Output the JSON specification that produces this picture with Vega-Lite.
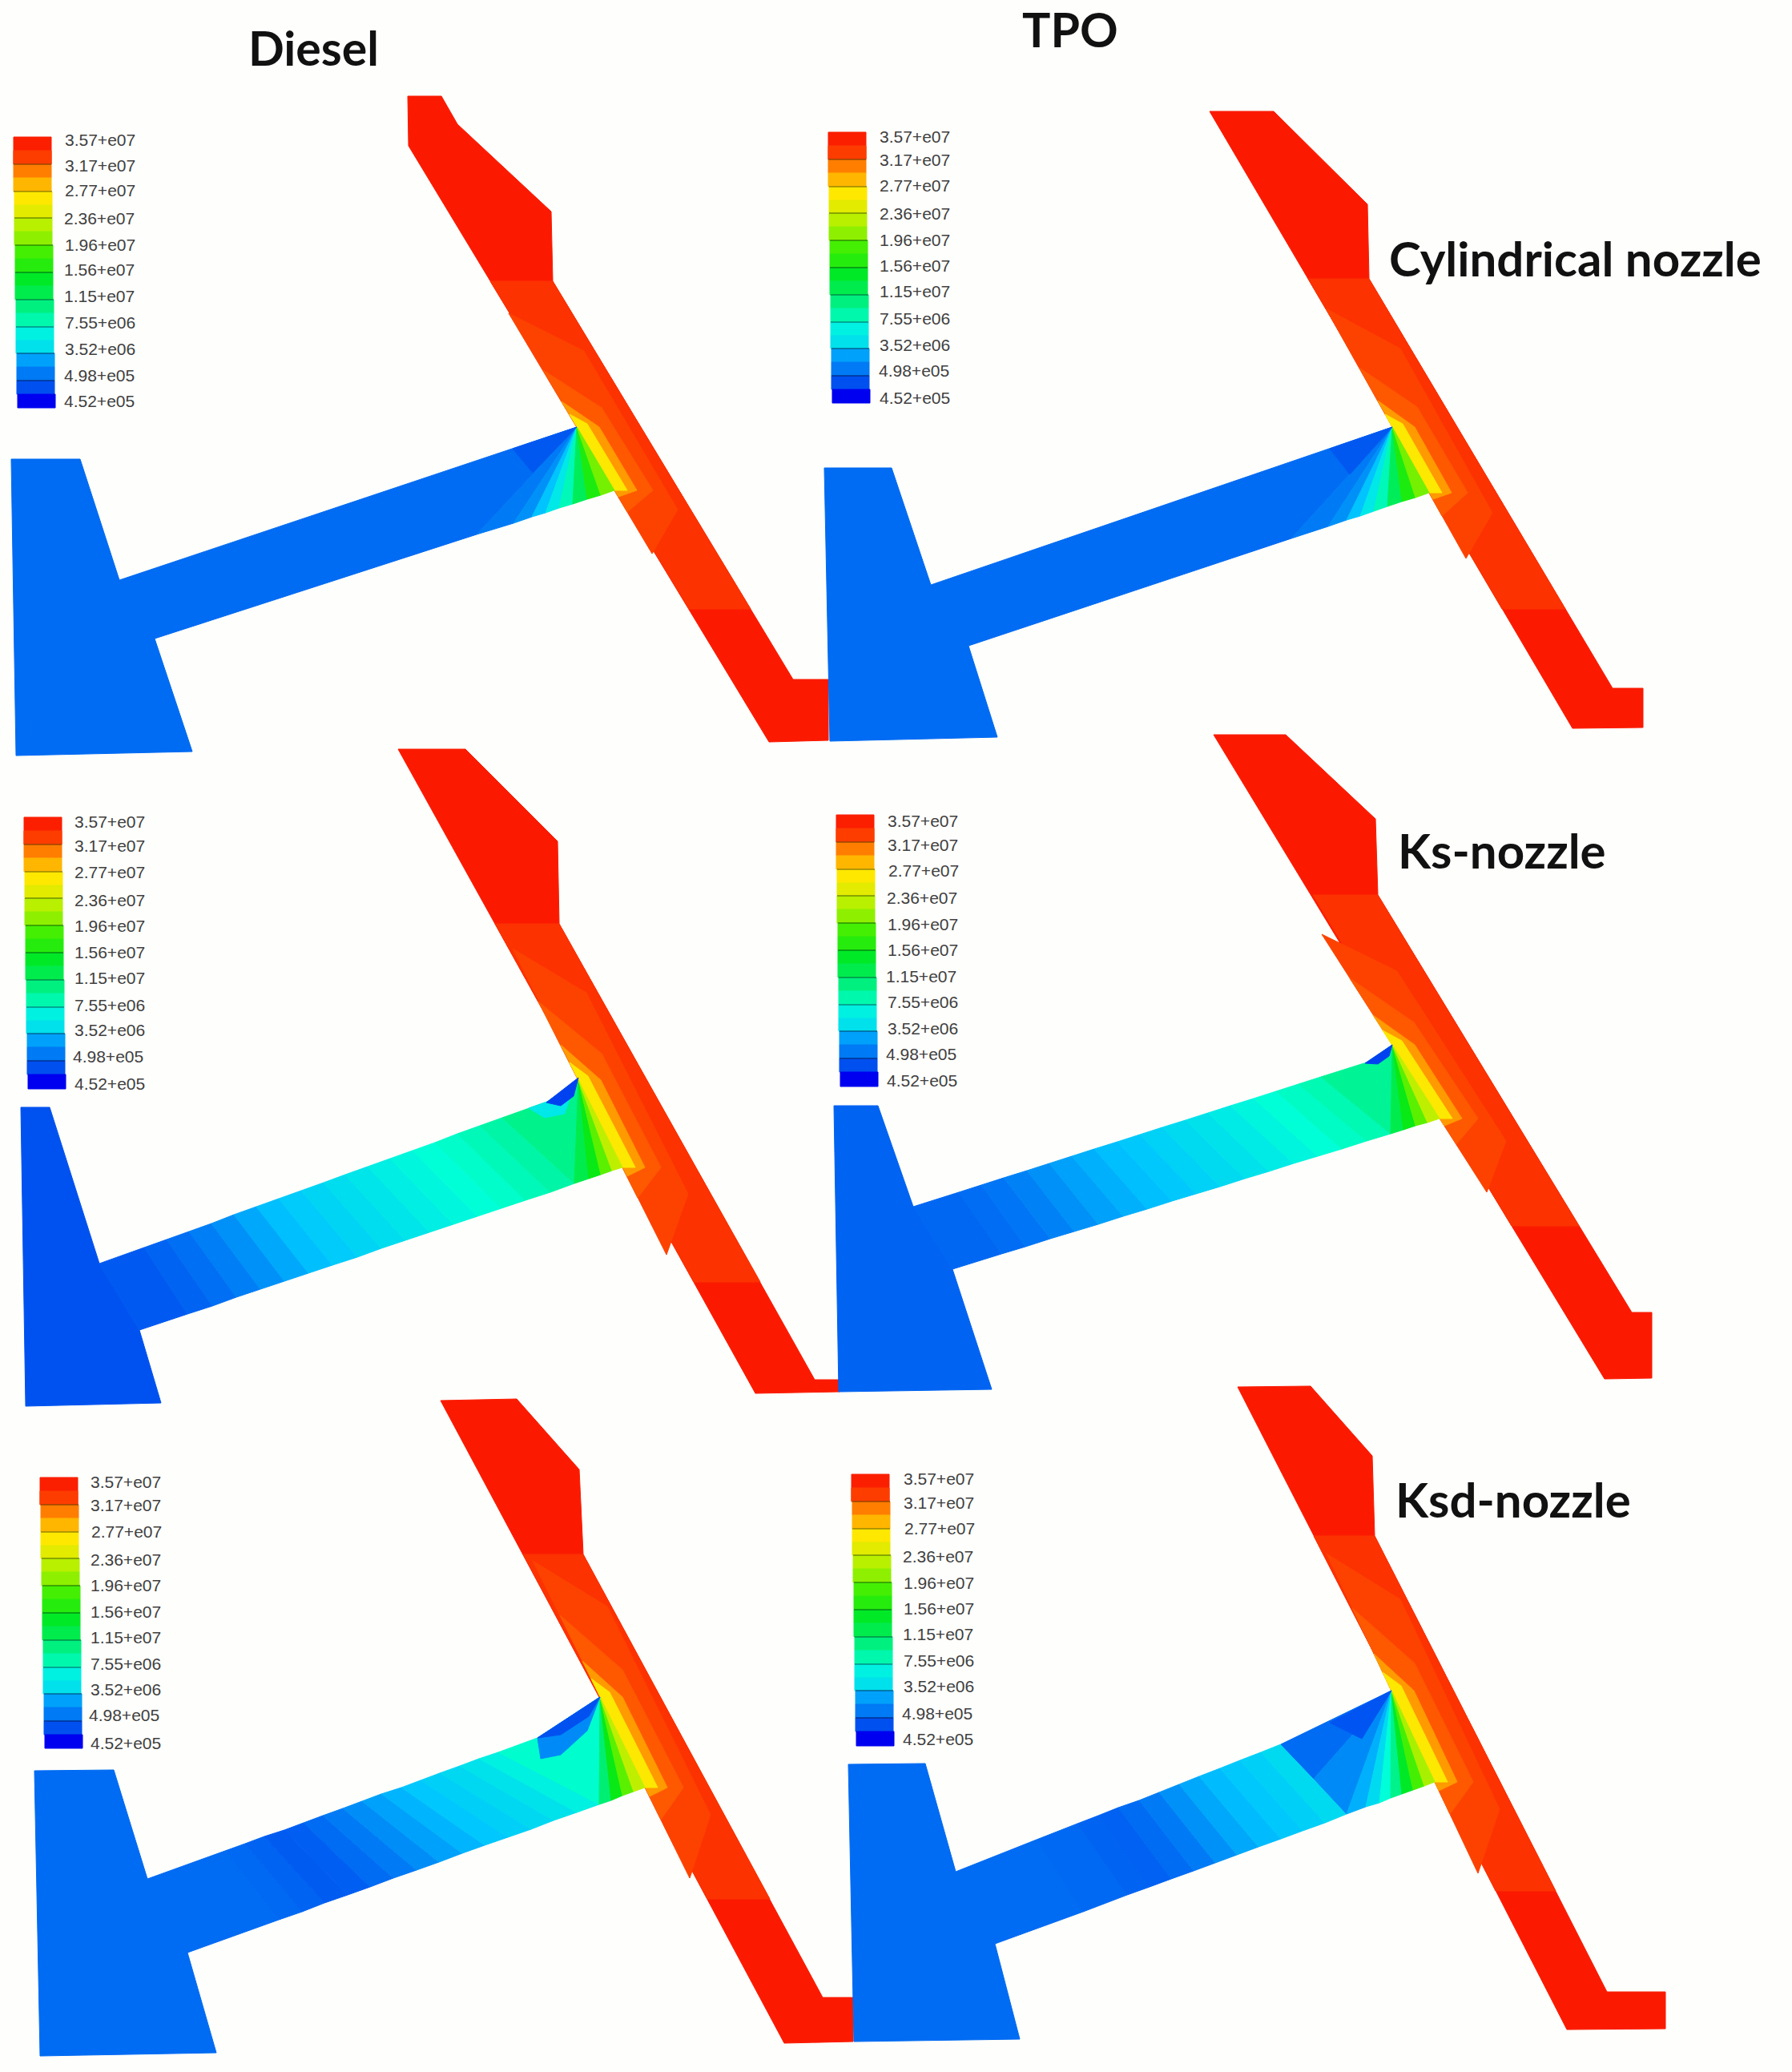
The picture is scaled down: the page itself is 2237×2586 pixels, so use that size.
{"$schema":"https://vega.github.io/schema/vega-lite/v6.json","width":2237,"height":2586,"padding":0,"autosize":"none","background":"#fefefc","config":{"view":{"stroke":null}},"projection":{"type":"identity","scale":1,"translate":[0,0]},
"layer":[
{"data":{"values":[
{"type":"Feature","p":35700000,"geometry":{"type":"Polygon","coordinates":[[[509,120],[551,120],[571,155],[688,264],[690,351],[990,848],[1034,848],[1034,924],[960,926],[510,182],[509,120]]]}},
{"type":"Feature","p":34700000,"geometry":{"type":"Polygon","coordinates":[[[612,351],[690,351],[937,760],[860,760],[612,351]]]}},
{"type":"Feature","p":34000000,"geometry":{"type":"Polygon","coordinates":[[[635,391],[729,438],[846,636],[814,691],[635,391]]]}},
{"type":"Feature","p":33000000,"geometry":{"type":"Polygon","coordinates":[[[678,462],[751,509],[815,612],[783,639],[678,462]]]}},
{"type":"Feature","p":30500000,"geometry":{"type":"Polygon","coordinates":[[[701,501],[748,533],[795,612],[772,620],[701,501]]]}},
{"type":"Feature","p":27500000,"geometry":{"type":"Polygon","coordinates":[[[711,517],[733,529],[783,612],[767,612],[711,517]]]}},
{"type":"Feature","p":1200000,"geometry":{"type":"Polygon","coordinates":[[[14,573],[100,573],[149,724],[193,797],[240,938],[20,943],[14,573]]]}},
{"type":"Feature","p":1200000,"geometry":{"type":"Polygon","coordinates":[[[149,724],[720,533],[595,667],[193,797],[149,724]]]}},
{"type":"Feature","p":1600000,"geometry":{"type":"Polygon","coordinates":[[[720,533],[595,667],[641,653],[720,533]]]}},
{"type":"Feature","p":2200000,"geometry":{"type":"Polygon","coordinates":[[[720,533],[641,653],[664,645],[720,533]]]}},
{"type":"Feature","p":3500000,"geometry":{"type":"Polygon","coordinates":[[[720,533],[664,645],[681,640],[720,533]]]}},
{"type":"Feature","p":6000000,"geometry":{"type":"Polygon","coordinates":[[[720,533],[681,640],[698,634],[720,533]]]}},
{"type":"Feature","p":9000000,"geometry":{"type":"Polygon","coordinates":[[[720,533],[698,634],[715,629],[720,533]]]}},
{"type":"Feature","p":13000000,"geometry":{"type":"Polygon","coordinates":[[[720,533],[715,629],[733,623],[720,533]]]}},
{"type":"Feature","p":17000000,"geometry":{"type":"Polygon","coordinates":[[[720,533],[733,623],[750,618],[720,533]]]}},
{"type":"Feature","p":21000000,"geometry":{"type":"Polygon","coordinates":[[[720,533],[750,618],[767,612],[720,533]]]}},
{"type":"Feature","p":700000,"geometry":{"type":"Polygon","coordinates":[[[720,533],[640,560],[665,590],[720,533]]]}},

{"type":"Feature","p":35700000,"geometry":{"type":"Polygon","coordinates":[[[1510,139],[1590,139],[1707,255],[1709,348],[2013,859],[2051,859],[2051,908],[1963,909],[1510,139]]]}},
{"type":"Feature","p":34700000,"geometry":{"type":"Polygon","coordinates":[[[1633,348],[1709,348],[1954,760],[1875,760],[1633,348]]]}},
{"type":"Feature","p":34000000,"geometry":{"type":"Polygon","coordinates":[[[1655,385],[1748,435],[1863,640],[1830,697],[1655,385]]]}},
{"type":"Feature","p":33000000,"geometry":{"type":"Polygon","coordinates":[[[1697,459],[1769,508],[1832,615],[1800,644],[1697,459]]]}},
{"type":"Feature","p":30500000,"geometry":{"type":"Polygon","coordinates":[[[1720,500],[1766,533],[1812,615],[1789,623],[1720,500]]]}},
{"type":"Feature","p":27500000,"geometry":{"type":"Polygon","coordinates":[[[1729,517],[1751,529],[1800,615],[1784,615],[1729,517]]]}},
{"type":"Feature","p":1200000,"geometry":{"type":"Polygon","coordinates":[[[1029,584],[1113,584],[1162,730],[1209,806],[1245,920],[1036,925],[1029,584]]]}},
{"type":"Feature","p":1200000,"geometry":{"type":"Polygon","coordinates":[[[1162,730],[1738,533],[1612,672],[1209,806],[1162,730]]]}},
{"type":"Feature","p":1600000,"geometry":{"type":"Polygon","coordinates":[[[1738,533],[1612,672],[1658,657],[1738,533]]]}},
{"type":"Feature","p":2200000,"geometry":{"type":"Polygon","coordinates":[[[1738,533],[1658,657],[1681,649],[1738,533]]]}},
{"type":"Feature","p":3500000,"geometry":{"type":"Polygon","coordinates":[[[1738,533],[1681,649],[1698,644],[1738,533]]]}},
{"type":"Feature","p":6000000,"geometry":{"type":"Polygon","coordinates":[[[1738,533],[1698,644],[1715,638],[1738,533]]]}},
{"type":"Feature","p":9000000,"geometry":{"type":"Polygon","coordinates":[[[1738,533],[1715,638],[1732,632],[1738,533]]]}},
{"type":"Feature","p":13000000,"geometry":{"type":"Polygon","coordinates":[[[1738,533],[1732,632],[1750,626],[1738,533]]]}},
{"type":"Feature","p":17000000,"geometry":{"type":"Polygon","coordinates":[[[1738,533],[1750,626],[1767,621],[1738,533]]]}},
{"type":"Feature","p":21000000,"geometry":{"type":"Polygon","coordinates":[[[1738,533],[1767,621],[1784,615],[1738,533]]]}},
{"type":"Feature","p":700000,"geometry":{"type":"Polygon","coordinates":[[[1738,533],[1660,560],[1685,592],[1738,533]]]}},

{"type":"Feature","p":35700000,"geometry":{"type":"Polygon","coordinates":[[[497,935],[581,935],[696,1050],[698,1153],[1017,1722],[1048,1722],[1048,1737],[943,1739],[497,935]]]}},
{"type":"Feature","p":34700000,"geometry":{"type":"Polygon","coordinates":[[[618,1153],[698,1153],[949,1600],[866,1600],[618,1153]]]}},
{"type":"Feature","p":34000000,"geometry":{"type":"Polygon","coordinates":[[[640,1184],[732,1239],[859,1490],[832,1566],[640,1184]]]}},
{"type":"Feature","p":33000000,"geometry":{"type":"Polygon","coordinates":[[[672,1250],[751,1315],[825,1457],[796,1495],[672,1250]]]}},
{"type":"Feature","p":30500000,"geometry":{"type":"Polygon","coordinates":[[[700,1304],[750,1348],[805,1457],[783,1468],[700,1304]]]}},
{"type":"Feature","p":27500000,"geometry":{"type":"Polygon","coordinates":[[[711,1326],[734,1343],[793,1457],[777,1457],[711,1326]]]}},
{"type":"Feature","p":550000,"geometry":{"type":"Polygon","coordinates":[[[26,1382],[62,1382],[124,1577],[174,1660],[201,1751],[32,1755],[26,1382]]]}},
{"type":"Feature","p":750000,"geometry":{"type":"Polygon","coordinates":[[[124,1577],[180,1557],[234,1640],[174,1660],[124,1577]]]}},
{"type":"Feature","p":1000000,"geometry":{"type":"Polygon","coordinates":[[[180,1557],[208,1547],[265,1630],[234,1640],[180,1557]]]}},
{"type":"Feature","p":1300000,"geometry":{"type":"Polygon","coordinates":[[[208,1547],[236,1537],[295,1619],[265,1630],[208,1547]]]}},
{"type":"Feature","p":1700000,"geometry":{"type":"Polygon","coordinates":[[[236,1537],[264,1527],[325,1609],[295,1619],[236,1537]]]}},
{"type":"Feature","p":2200000,"geometry":{"type":"Polygon","coordinates":[[[264,1527],[292,1516],[355,1599],[325,1609],[264,1527]]]}},
{"type":"Feature","p":2800000,"geometry":{"type":"Polygon","coordinates":[[[292,1516],[320,1506],[385,1589],[355,1599],[292,1516]]]}},
{"type":"Feature","p":3400000,"geometry":{"type":"Polygon","coordinates":[[[320,1506],[348,1496],[415,1579],[385,1589],[320,1506]]]}},
{"type":"Feature","p":4000000,"geometry":{"type":"Polygon","coordinates":[[[348,1496],[376,1486],[446,1569],[415,1579],[348,1496]]]}},
{"type":"Feature","p":4600000,"geometry":{"type":"Polygon","coordinates":[[[376,1486],[404,1476],[476,1558],[446,1569],[376,1486]]]}},
{"type":"Feature","p":5200000,"geometry":{"type":"Polygon","coordinates":[[[404,1476],[431,1466],[506,1548],[476,1558],[404,1476]]]}},
{"type":"Feature","p":5800000,"geometry":{"type":"Polygon","coordinates":[[[431,1466],[459,1456],[536,1538],[506,1548],[431,1466]]]}},
{"type":"Feature","p":6400000,"geometry":{"type":"Polygon","coordinates":[[[459,1456],[487,1446],[566,1528],[536,1538],[459,1456]]]}},
{"type":"Feature","p":7000000,"geometry":{"type":"Polygon","coordinates":[[[487,1446],[515,1436],[596,1518],[566,1528],[487,1446]]]}},
{"type":"Feature","p":7600000,"geometry":{"type":"Polygon","coordinates":[[[515,1436],[543,1426],[626,1508],[596,1518],[515,1436]]]}},
{"type":"Feature","p":8200000,"geometry":{"type":"Polygon","coordinates":[[[543,1426],[571,1415],[656,1498],[626,1508],[543,1426]]]}},
{"type":"Feature","p":9000000,"geometry":{"type":"Polygon","coordinates":[[[571,1415],[599,1405],[687,1488],[656,1498],[571,1415]]]}},
{"type":"Feature","p":9800000,"geometry":{"type":"Polygon","coordinates":[[[599,1405],[627,1395],[717,1477],[687,1488],[599,1405]]]}},
{"type":"Feature","p":11000000,"geometry":{"type":"Polygon","coordinates":[[[627,1395],[683,1375],[722,1348],[717,1477],[627,1395]]]}},
{"type":"Feature","p":13500000,"geometry":{"type":"Polygon","coordinates":[[[722,1348],[717,1477],[735,1471],[722,1348]]]}},
{"type":"Feature","p":16000000,"geometry":{"type":"Polygon","coordinates":[[[722,1348],[735,1471],[750,1466],[722,1348]]]}},
{"type":"Feature","p":20000000,"geometry":{"type":"Polygon","coordinates":[[[722,1348],[750,1466],[764,1461],[722,1348]]]}},
{"type":"Feature","p":24000000,"geometry":{"type":"Polygon","coordinates":[[[722,1348],[764,1461],[777,1457],[722,1348]]]}},
{"type":"Feature","p":6000000,"geometry":{"type":"Polygon","coordinates":[[[660,1383],[683,1375],[712,1368],[705,1390],[680,1395],[660,1383]]]}},
{"type":"Feature","p":490000,"geometry":{"type":"Polygon","coordinates":[[[722,1345],[682,1376],[700,1380],[716,1368],[722,1345]]]}},

{"type":"Feature","p":35700000,"geometry":{"type":"Polygon","coordinates":[[[1515,917],[1605,917],[1717,1022],[1720,1117],[2037,1638],[2062,1638],[2062,1720],[2003,1721],[1515,917]]]}},
{"type":"Feature","p":34700000,"geometry":{"type":"Polygon","coordinates":[[[1639,1117],[1720,1117],[1971,1530],[1887,1530],[1639,1117]]]}},
{"type":"Feature","p":34000000,"geometry":{"type":"Polygon","coordinates":[[[1650,1166],[1744,1212],[1880,1424],[1856,1488],[1650,1166]]]}},
{"type":"Feature","p":33000000,"geometry":{"type":"Polygon","coordinates":[[[1685,1221],[1765,1276],[1845,1396],[1818,1428],[1685,1221]]]}},
{"type":"Feature","p":30500000,"geometry":{"type":"Polygon","coordinates":[[[1714,1267],[1766,1304],[1825,1396],[1803,1405],[1714,1267]]]}},
{"type":"Feature","p":27500000,"geometry":{"type":"Polygon","coordinates":[[[1726,1286],[1750,1299],[1813,1396],[1797,1396],[1726,1286]]]}},
{"type":"Feature","p":1000000,"geometry":{"type":"Polygon","coordinates":[[[1041,1380],[1096,1380],[1140,1506],[1189,1584],[1238,1734],[1047,1737],[1041,1380]]]}},
{"type":"Feature","p":1100000,"geometry":{"type":"Polygon","coordinates":[[[1140,1506],[1197,1488],[1250,1565],[1189,1584],[1140,1506]]]}},
{"type":"Feature","p":1250000,"geometry":{"type":"Polygon","coordinates":[[[1197,1488],[1225,1479],[1280,1556],[1250,1565],[1197,1488]]]}},
{"type":"Feature","p":1450000,"geometry":{"type":"Polygon","coordinates":[[[1225,1479],[1253,1470],[1311,1546],[1280,1556],[1225,1479]]]}},
{"type":"Feature","p":1800000,"geometry":{"type":"Polygon","coordinates":[[[1253,1470],[1282,1461],[1341,1537],[1311,1546],[1253,1470]]]}},
{"type":"Feature","p":2200000,"geometry":{"type":"Polygon","coordinates":[[[1282,1461],[1310,1452],[1371,1528],[1341,1537],[1282,1461]]]}},
{"type":"Feature","p":2600000,"geometry":{"type":"Polygon","coordinates":[[[1310,1452],[1338,1443],[1402,1518],[1371,1528],[1310,1452]]]}},
{"type":"Feature","p":3000000,"geometry":{"type":"Polygon","coordinates":[[[1338,1443],[1366,1434],[1432,1509],[1402,1518],[1338,1443]]]}},
{"type":"Feature","p":3400000,"geometry":{"type":"Polygon","coordinates":[[[1366,1434],[1395,1425],[1463,1499],[1432,1509],[1366,1434]]]}},
{"type":"Feature","p":3800000,"geometry":{"type":"Polygon","coordinates":[[[1395,1425],[1423,1416],[1493,1490],[1463,1499],[1395,1425]]]}},
{"type":"Feature","p":4400000,"geometry":{"type":"Polygon","coordinates":[[[1423,1416],[1451,1407],[1523,1481],[1493,1490],[1423,1416]]]}},
{"type":"Feature","p":5000000,"geometry":{"type":"Polygon","coordinates":[[[1451,1407],[1480,1398],[1554,1471],[1523,1481],[1451,1407]]]}},
{"type":"Feature","p":5600000,"geometry":{"type":"Polygon","coordinates":[[[1480,1398],[1508,1389],[1584,1462],[1554,1471],[1480,1398]]]}},
{"type":"Feature","p":6200000,"geometry":{"type":"Polygon","coordinates":[[[1508,1389],[1536,1380],[1615,1452],[1584,1462],[1508,1389]]]}},
{"type":"Feature","p":6900000,"geometry":{"type":"Polygon","coordinates":[[[1536,1380],[1565,1371],[1645,1443],[1615,1452],[1536,1380]]]}},
{"type":"Feature","p":7600000,"geometry":{"type":"Polygon","coordinates":[[[1565,1371],[1593,1362],[1675,1434],[1645,1443],[1565,1371]]]}},
{"type":"Feature","p":8400000,"geometry":{"type":"Polygon","coordinates":[[[1593,1362],[1621,1353],[1706,1424],[1675,1434],[1593,1362]]]}},
{"type":"Feature","p":9200000,"geometry":{"type":"Polygon","coordinates":[[[1621,1353],[1649,1344],[1736,1415],[1706,1424],[1621,1353]]]}},
{"type":"Feature","p":10500000,"geometry":{"type":"Polygon","coordinates":[[[1649,1344],[1706,1326],[1738,1304],[1736,1415],[1649,1344]]]}},
{"type":"Feature","p":13500000,"geometry":{"type":"Polygon","coordinates":[[[1738,1304],[1736,1415],[1752,1410],[1738,1304]]]}},
{"type":"Feature","p":16000000,"geometry":{"type":"Polygon","coordinates":[[[1738,1304],[1752,1410],[1767,1405],[1738,1304]]]}},
{"type":"Feature","p":20000000,"geometry":{"type":"Polygon","coordinates":[[[1738,1304],[1767,1405],[1782,1401],[1738,1304]]]}},
{"type":"Feature","p":24000000,"geometry":{"type":"Polygon","coordinates":[[[1738,1304],[1782,1401],[1797,1396],[1738,1304]]]}},
{"type":"Feature","p":490000,"geometry":{"type":"Polygon","coordinates":[[[1738,1304],[1704,1327],[1720,1328],[1734,1318],[1738,1304]]]}},

{"type":"Feature","p":35700000,"geometry":{"type":"Polygon","coordinates":[[[550,1748],[645,1746],[723,1834],[728,1940],[1027,2493],[1065,2493],[1065,2548],[979,2550],[550,1748]]]}},
{"type":"Feature","p":34700000,"geometry":{"type":"Polygon","coordinates":[[[653,1940],[728,1940],[961,2370],[883,2370],[653,1940]]]}},
{"type":"Feature","p":34000000,"geometry":{"type":"Polygon","coordinates":[[[665,1948],[758,2005],[887,2265],[861,2344],[665,1948]]]}},
{"type":"Feature","p":33000000,"geometry":{"type":"Polygon","coordinates":[[[699,2016],[777,2084],[853,2231],[825,2271],[699,2016]]]}},
{"type":"Feature","p":30500000,"geometry":{"type":"Polygon","coordinates":[[[727,2073],[777,2118],[833,2231],[811,2242],[727,2073]]]}},
{"type":"Feature","p":27500000,"geometry":{"type":"Polygon","coordinates":[[[738,2095],[761,2112],[821,2231],[805,2231],[738,2095]]]}},
{"type":"Feature","p":1200000,"geometry":{"type":"Polygon","coordinates":[[[43,2210],[142,2209],[184,2345],[234,2437],[270,2562],[50,2566],[43,2210]]]}},
{"type":"Feature","p":1200000,"geometry":{"type":"Polygon","coordinates":[[[184,2345],[281,2310],[348,2396],[234,2437],[184,2345]]]}},
{"type":"Feature","p":1150000,"geometry":{"type":"Polygon","coordinates":[[[281,2310],[306,2301],[377,2386],[348,2396],[281,2310]]]}},
{"type":"Feature","p":1000000,"geometry":{"type":"Polygon","coordinates":[[[306,2301],[330,2292],[405,2375],[377,2386],[306,2301]]]}},
{"type":"Feature","p":800000,"geometry":{"type":"Polygon","coordinates":[[[330,2292],[355,2284],[434,2365],[405,2375],[330,2292]]]}},
{"type":"Feature","p":850000,"geometry":{"type":"Polygon","coordinates":[[[355,2284],[379,2275],[462,2355],[434,2365],[355,2284]]]}},
{"type":"Feature","p":1200000,"geometry":{"type":"Polygon","coordinates":[[[379,2275],[403,2266],[491,2344],[462,2355],[379,2275]]]}},
{"type":"Feature","p":1600000,"geometry":{"type":"Polygon","coordinates":[[[403,2266],[428,2257],[520,2334],[491,2344],[403,2266]]]}},
{"type":"Feature","p":2100000,"geometry":{"type":"Polygon","coordinates":[[[428,2257],[452,2248],[548,2324],[520,2334],[428,2257]]]}},
{"type":"Feature","p":2600000,"geometry":{"type":"Polygon","coordinates":[[[452,2248],[476,2239],[577,2313],[548,2324],[452,2248]]]}},
{"type":"Feature","p":3100000,"geometry":{"type":"Polygon","coordinates":[[[476,2239],[501,2231],[605,2303],[577,2313],[476,2239]]]}},
{"type":"Feature","p":3700000,"geometry":{"type":"Polygon","coordinates":[[[501,2231],[525,2222],[634,2293],[605,2303],[501,2231]]]}},
{"type":"Feature","p":4300000,"geometry":{"type":"Polygon","coordinates":[[[525,2222],[549,2213],[663,2283],[634,2293],[525,2222]]]}},
{"type":"Feature","p":4900000,"geometry":{"type":"Polygon","coordinates":[[[549,2213],[574,2204],[691,2272],[663,2283],[549,2213]]]}},
{"type":"Feature","p":5600000,"geometry":{"type":"Polygon","coordinates":[[[574,2204],[598,2195],[720,2262],[691,2272],[574,2204]]]}},
{"type":"Feature","p":6500000,"geometry":{"type":"Polygon","coordinates":[[[598,2195],[622,2187],[748,2252],[720,2262],[598,2195]]]}},
{"type":"Feature","p":8000000,"geometry":{"type":"Polygon","coordinates":[[[622,2187],[671,2169],[749,2118],[748,2252],[622,2187]]]}},
{"type":"Feature","p":12000000,"geometry":{"type":"Polygon","coordinates":[[[749,2118],[748,2252],[763,2247],[749,2118]]]}},
{"type":"Feature","p":16000000,"geometry":{"type":"Polygon","coordinates":[[[749,2118],[763,2247],[777,2241],[749,2118]]]}},
{"type":"Feature","p":20000000,"geometry":{"type":"Polygon","coordinates":[[[749,2118],[777,2241],[791,2236],[749,2118]]]}},
{"type":"Feature","p":24000000,"geometry":{"type":"Polygon","coordinates":[[[749,2118],[791,2236],[805,2231],[749,2118]]]}},
{"type":"Feature","p":2000000,"geometry":{"type":"Polygon","coordinates":[[[749,2118],[671,2169],[675,2195],[700,2190],[733,2160],[749,2118]]]}},
{"type":"Feature","p":520000,"geometry":{"type":"Polygon","coordinates":[[[749,2118],[671,2169],[700,2165],[735,2142],[749,2118]]]}},

{"type":"Feature","p":35700000,"geometry":{"type":"Polygon","coordinates":[[[1545,1731],[1636,1730],[1713,1817],[1716,1917],[2006,2486],[2079,2486],[2079,2532],[1956,2533],[1545,1731]]]}},
{"type":"Feature","p":34700000,"geometry":{"type":"Polygon","coordinates":[[[1640,1917],[1716,1917],[1942,2360],[1867,2360],[1640,1917]]]}},
{"type":"Feature","p":34000000,"geometry":{"type":"Polygon","coordinates":[[[1656,1939],[1748,1996],[1872,2258],[1845,2338],[1656,1939]]]}},
{"type":"Feature","p":33000000,"geometry":{"type":"Polygon","coordinates":[[[1688,2007],[1766,2076],[1839,2224],[1810,2264],[1688,2007]]]}},
{"type":"Feature","p":30500000,"geometry":{"type":"Polygon","coordinates":[[[1715,2064],[1765,2110],[1819,2224],[1796,2235],[1715,2064]]]}},
{"type":"Feature","p":27500000,"geometry":{"type":"Polygon","coordinates":[[[1726,2087],[1749,2104],[1807,2224],[1791,2224],[1726,2087]]]}},
{"type":"Feature","p":1200000,"geometry":{"type":"Polygon","coordinates":[[[1059,2202],[1155,2201],[1193,2336],[1242,2426],[1273,2545],[1066,2548],[1059,2202]]]}},
{"type":"Feature","p":1200000,"geometry":{"type":"Polygon","coordinates":[[[1193,2336],[1294,2296],[1352,2386],[1242,2426],[1193,2336]]]}},
{"type":"Feature","p":1150000,"geometry":{"type":"Polygon","coordinates":[[[1294,2296],[1345,2276],[1407,2365],[1352,2386],[1294,2296]]]}},
{"type":"Feature","p":1000000,"geometry":{"type":"Polygon","coordinates":[[[1345,2276],[1371,2266],[1435,2355],[1407,2365],[1345,2276]]]}},
{"type":"Feature","p":950000,"geometry":{"type":"Polygon","coordinates":[[[1371,2266],[1396,2256],[1462,2345],[1435,2355],[1371,2266]]]}},
{"type":"Feature","p":1200000,"geometry":{"type":"Polygon","coordinates":[[[1396,2256],[1422,2247],[1490,2335],[1462,2345],[1396,2256]]]}},
{"type":"Feature","p":1600000,"geometry":{"type":"Polygon","coordinates":[[[1422,2247],[1447,2237],[1517,2325],[1490,2335],[1422,2247]]]}},
{"type":"Feature","p":2200000,"geometry":{"type":"Polygon","coordinates":[[[1447,2237],[1472,2227],[1544,2315],[1517,2325],[1447,2237]]]}},
{"type":"Feature","p":2800000,"geometry":{"type":"Polygon","coordinates":[[[1472,2227],[1497,2217],[1571,2305],[1544,2315],[1472,2227]]]}},
{"type":"Feature","p":3300000,"geometry":{"type":"Polygon","coordinates":[[[1497,2217],[1523,2207],[1599,2295],[1571,2305],[1497,2217]]]}},
{"type":"Feature","p":3800000,"geometry":{"type":"Polygon","coordinates":[[[1523,2207],[1548,2197],[1626,2285],[1599,2295],[1523,2207]]]}},
{"type":"Feature","p":4300000,"geometry":{"type":"Polygon","coordinates":[[[1548,2197],[1574,2187],[1654,2275],[1626,2285],[1548,2197]]]}},
{"type":"Feature","p":5000000,"geometry":{"type":"Polygon","coordinates":[[[1574,2187],[1599,2177],[1681,2264],[1654,2275],[1574,2187]]]}},
{"type":"Feature","p":1200000,"geometry":{"type":"Polygon","coordinates":[[[1737,2110],[1599,2177],[1640,2220],[1737,2110]]]}},
{"type":"Feature","p":2000000,"geometry":{"type":"Polygon","coordinates":[[[1737,2110],[1640,2220],[1681,2264],[1737,2110]]]}},
{"type":"Feature","p":3000000,"geometry":{"type":"Polygon","coordinates":[[[1737,2110],[1681,2264],[1705,2255],[1737,2110]]]}},
{"type":"Feature","p":5000000,"geometry":{"type":"Polygon","coordinates":[[[1737,2110],[1705,2255],[1722,2250],[1737,2110]]]}},
{"type":"Feature","p":7500000,"geometry":{"type":"Polygon","coordinates":[[[1737,2110],[1722,2250],[1736,2244],[1737,2110]]]}},
{"type":"Feature","p":11000000,"geometry":{"type":"Polygon","coordinates":[[[1737,2110],[1736,2244],[1750,2239],[1737,2110]]]}},
{"type":"Feature","p":15000000,"geometry":{"type":"Polygon","coordinates":[[[1737,2110],[1750,2239],[1764,2234],[1737,2110]]]}},
{"type":"Feature","p":19000000,"geometry":{"type":"Polygon","coordinates":[[[1737,2110],[1764,2234],[1778,2229],[1737,2110]]]}},
{"type":"Feature","p":23000000,"geometry":{"type":"Polygon","coordinates":[[[1737,2110],[1778,2229],[1791,2224],[1737,2110]]]}},
{"type":"Feature","p":600000,"geometry":{"type":"Polygon","coordinates":[[[1737,2110],[1660,2150],[1700,2170],[1737,2110]]]}},

{"type":"Feature","p":35500000,"geometry":{"type":"Polygon","coordinates":[[[17,171],[64,171],[64,205],[17,205],[17,171]]]}},
{"type":"Feature","p":34200000,"geometry":{"type":"Polygon","coordinates":[[[17,188],[64,188],[64,205],[17,205],[17,188]]]}},
{"type":"Feature","p":31500000,"geometry":{"type":"Polygon","coordinates":[[[17,205],[64,205],[64,222],[17,222],[17,205]]]}},
{"type":"Feature","p":29500000,"geometry":{"type":"Polygon","coordinates":[[[17,222],[64,222],[64,239],[17,239],[17,222]]]}},
{"type":"Feature","p":27700000,"geometry":{"type":"Polygon","coordinates":[[[18,239],[65,239],[65,256],[18,256],[18,239]]]}},
{"type":"Feature","p":26000000,"geometry":{"type":"Polygon","coordinates":[[[18,256],[65,256],[65,272],[18,272],[18,256]]]}},
{"type":"Feature","p":23600000,"geometry":{"type":"Polygon","coordinates":[[[18,272],[65,272],[65,289],[18,289],[18,272]]]}},
{"type":"Feature","p":22000000,"geometry":{"type":"Polygon","coordinates":[[[18,289],[65,289],[65,306],[18,306],[18,289]]]}},
{"type":"Feature","p":19000000,"geometry":{"type":"Polygon","coordinates":[[[19,306],[66,306],[66,323],[19,323],[19,306]]]}},
{"type":"Feature","p":17500000,"geometry":{"type":"Polygon","coordinates":[[[19,323],[66,323],[66,340],[19,340],[19,323]]]}},
{"type":"Feature","p":15000000,"geometry":{"type":"Polygon","coordinates":[[[19,340],[66,340],[66,357],[19,357],[19,340]]]}},
{"type":"Feature","p":13500000,"geometry":{"type":"Polygon","coordinates":[[[19,357],[66,357],[66,374],[19,374],[19,357]]]}},
{"type":"Feature","p":11500000,"geometry":{"type":"Polygon","coordinates":[[[20,374],[67,374],[67,391],[20,391],[20,374]]]}},
{"type":"Feature","p":9500000,"geometry":{"type":"Polygon","coordinates":[[[20,391],[67,391],[67,408],[20,408],[20,391]]]}},
{"type":"Feature","p":6500000,"geometry":{"type":"Polygon","coordinates":[[[20,408],[67,408],[67,425],[20,425],[20,408]]]}},
{"type":"Feature","p":5500000,"geometry":{"type":"Polygon","coordinates":[[[20,425],[67,425],[67,441],[20,441],[20,425]]]}},
{"type":"Feature","p":2600000,"geometry":{"type":"Polygon","coordinates":[[[21,441],[68,441],[68,458],[21,458],[21,441]]]}},
{"type":"Feature","p":1600000,"geometry":{"type":"Polygon","coordinates":[[[21,458],[68,458],[68,475],[21,475],[21,458]]]}},
{"type":"Feature","p":498000,"geometry":{"type":"Polygon","coordinates":[[[21,475],[68,475],[68,492],[21,492],[21,475]]]}},
{"type":"Feature","p":452000,"geometry":{"type":"Polygon","coordinates":[[[22,492],[69,492],[69,509],[22,509],[22,492]]]}},

{"type":"Feature","p":35500000,"geometry":{"type":"Polygon","coordinates":[[[1034,165],[1081,165],[1081,199],[1034,199],[1034,165]]]}},
{"type":"Feature","p":34200000,"geometry":{"type":"Polygon","coordinates":[[[1034,182],[1081,182],[1081,199],[1034,199],[1034,182]]]}},
{"type":"Feature","p":31500000,"geometry":{"type":"Polygon","coordinates":[[[1034,199],[1081,199],[1081,216],[1034,216],[1034,199]]]}},
{"type":"Feature","p":29500000,"geometry":{"type":"Polygon","coordinates":[[[1034,216],[1081,216],[1081,233],[1034,233],[1034,216]]]}},
{"type":"Feature","p":27700000,"geometry":{"type":"Polygon","coordinates":[[[1035,233],[1082,233],[1082,250],[1035,250],[1035,233]]]}},
{"type":"Feature","p":26000000,"geometry":{"type":"Polygon","coordinates":[[[1035,250],[1082,250],[1082,266],[1035,266],[1035,250]]]}},
{"type":"Feature","p":23600000,"geometry":{"type":"Polygon","coordinates":[[[1035,266],[1082,266],[1082,283],[1035,283],[1035,266]]]}},
{"type":"Feature","p":22000000,"geometry":{"type":"Polygon","coordinates":[[[1035,283],[1082,283],[1082,300],[1035,300],[1035,283]]]}},
{"type":"Feature","p":19000000,"geometry":{"type":"Polygon","coordinates":[[[1036,300],[1083,300],[1083,317],[1036,317],[1036,300]]]}},
{"type":"Feature","p":17500000,"geometry":{"type":"Polygon","coordinates":[[[1036,317],[1083,317],[1083,334],[1036,334],[1036,317]]]}},
{"type":"Feature","p":15000000,"geometry":{"type":"Polygon","coordinates":[[[1036,334],[1083,334],[1083,351],[1036,351],[1036,334]]]}},
{"type":"Feature","p":13500000,"geometry":{"type":"Polygon","coordinates":[[[1036,351],[1083,351],[1083,368],[1036,368],[1036,351]]]}},
{"type":"Feature","p":11500000,"geometry":{"type":"Polygon","coordinates":[[[1037,368],[1084,368],[1084,385],[1037,385],[1037,368]]]}},
{"type":"Feature","p":9500000,"geometry":{"type":"Polygon","coordinates":[[[1037,385],[1084,385],[1084,402],[1037,402],[1037,385]]]}},
{"type":"Feature","p":6500000,"geometry":{"type":"Polygon","coordinates":[[[1037,402],[1084,402],[1084,419],[1037,419],[1037,402]]]}},
{"type":"Feature","p":5500000,"geometry":{"type":"Polygon","coordinates":[[[1037,419],[1084,419],[1084,435],[1037,435],[1037,419]]]}},
{"type":"Feature","p":2600000,"geometry":{"type":"Polygon","coordinates":[[[1038,435],[1085,435],[1085,452],[1038,452],[1038,435]]]}},
{"type":"Feature","p":1600000,"geometry":{"type":"Polygon","coordinates":[[[1038,452],[1085,452],[1085,469],[1038,469],[1038,452]]]}},
{"type":"Feature","p":498000,"geometry":{"type":"Polygon","coordinates":[[[1038,469],[1085,469],[1085,486],[1038,486],[1038,469]]]}},
{"type":"Feature","p":452000,"geometry":{"type":"Polygon","coordinates":[[[1039,486],[1086,486],[1086,503],[1039,503],[1039,486]]]}},

{"type":"Feature","p":35500000,"geometry":{"type":"Polygon","coordinates":[[[30,1020],[77,1020],[77,1054],[30,1054],[30,1020]]]}},
{"type":"Feature","p":34200000,"geometry":{"type":"Polygon","coordinates":[[[30,1037],[77,1037],[77,1054],[30,1054],[30,1037]]]}},
{"type":"Feature","p":31500000,"geometry":{"type":"Polygon","coordinates":[[[30,1054],[77,1054],[77,1071],[30,1071],[30,1054]]]}},
{"type":"Feature","p":29500000,"geometry":{"type":"Polygon","coordinates":[[[30,1071],[77,1071],[77,1088],[30,1088],[30,1071]]]}},
{"type":"Feature","p":27700000,"geometry":{"type":"Polygon","coordinates":[[[31,1088],[78,1088],[78,1105],[31,1105],[31,1088]]]}},
{"type":"Feature","p":26000000,"geometry":{"type":"Polygon","coordinates":[[[31,1105],[78,1105],[78,1121],[31,1121],[31,1105]]]}},
{"type":"Feature","p":23600000,"geometry":{"type":"Polygon","coordinates":[[[31,1121],[78,1121],[78,1138],[31,1138],[31,1121]]]}},
{"type":"Feature","p":22000000,"geometry":{"type":"Polygon","coordinates":[[[31,1138],[78,1138],[78,1155],[31,1155],[31,1138]]]}},
{"type":"Feature","p":19000000,"geometry":{"type":"Polygon","coordinates":[[[32,1155],[79,1155],[79,1172],[32,1172],[32,1155]]]}},
{"type":"Feature","p":17500000,"geometry":{"type":"Polygon","coordinates":[[[32,1172],[79,1172],[79,1189],[32,1189],[32,1172]]]}},
{"type":"Feature","p":15000000,"geometry":{"type":"Polygon","coordinates":[[[32,1189],[79,1189],[79,1206],[32,1206],[32,1189]]]}},
{"type":"Feature","p":13500000,"geometry":{"type":"Polygon","coordinates":[[[32,1206],[79,1206],[79,1223],[32,1223],[32,1206]]]}},
{"type":"Feature","p":11500000,"geometry":{"type":"Polygon","coordinates":[[[33,1223],[80,1223],[80,1240],[33,1240],[33,1223]]]}},
{"type":"Feature","p":9500000,"geometry":{"type":"Polygon","coordinates":[[[33,1240],[80,1240],[80,1257],[33,1257],[33,1240]]]}},
{"type":"Feature","p":6500000,"geometry":{"type":"Polygon","coordinates":[[[33,1257],[80,1257],[80,1274],[33,1274],[33,1257]]]}},
{"type":"Feature","p":5500000,"geometry":{"type":"Polygon","coordinates":[[[33,1274],[80,1274],[80,1290],[33,1290],[33,1274]]]}},
{"type":"Feature","p":2600000,"geometry":{"type":"Polygon","coordinates":[[[34,1290],[81,1290],[81,1307],[34,1307],[34,1290]]]}},
{"type":"Feature","p":1600000,"geometry":{"type":"Polygon","coordinates":[[[34,1307],[81,1307],[81,1324],[34,1324],[34,1307]]]}},
{"type":"Feature","p":498000,"geometry":{"type":"Polygon","coordinates":[[[34,1324],[81,1324],[81,1341],[34,1341],[34,1324]]]}},
{"type":"Feature","p":452000,"geometry":{"type":"Polygon","coordinates":[[[35,1341],[82,1341],[82,1359],[35,1359],[35,1341]]]}},

{"type":"Feature","p":35500000,"geometry":{"type":"Polygon","coordinates":[[[1044,1017],[1091,1017],[1091,1051],[1044,1051],[1044,1017]]]}},
{"type":"Feature","p":34200000,"geometry":{"type":"Polygon","coordinates":[[[1044,1034],[1091,1034],[1091,1051],[1044,1051],[1044,1034]]]}},
{"type":"Feature","p":31500000,"geometry":{"type":"Polygon","coordinates":[[[1044,1051],[1091,1051],[1091,1068],[1044,1068],[1044,1051]]]}},
{"type":"Feature","p":29500000,"geometry":{"type":"Polygon","coordinates":[[[1044,1068],[1091,1068],[1091,1085],[1044,1085],[1044,1068]]]}},
{"type":"Feature","p":27700000,"geometry":{"type":"Polygon","coordinates":[[[1045,1085],[1092,1085],[1092,1102],[1045,1102],[1045,1085]]]}},
{"type":"Feature","p":26000000,"geometry":{"type":"Polygon","coordinates":[[[1045,1102],[1092,1102],[1092,1118],[1045,1118],[1045,1102]]]}},
{"type":"Feature","p":23600000,"geometry":{"type":"Polygon","coordinates":[[[1045,1118],[1092,1118],[1092,1135],[1045,1135],[1045,1118]]]}},
{"type":"Feature","p":22000000,"geometry":{"type":"Polygon","coordinates":[[[1045,1135],[1092,1135],[1092,1152],[1045,1152],[1045,1135]]]}},
{"type":"Feature","p":19000000,"geometry":{"type":"Polygon","coordinates":[[[1046,1152],[1093,1152],[1093,1169],[1046,1169],[1046,1152]]]}},
{"type":"Feature","p":17500000,"geometry":{"type":"Polygon","coordinates":[[[1046,1169],[1093,1169],[1093,1186],[1046,1186],[1046,1169]]]}},
{"type":"Feature","p":15000000,"geometry":{"type":"Polygon","coordinates":[[[1046,1186],[1093,1186],[1093,1203],[1046,1203],[1046,1186]]]}},
{"type":"Feature","p":13500000,"geometry":{"type":"Polygon","coordinates":[[[1046,1203],[1093,1203],[1093,1220],[1046,1220],[1046,1203]]]}},
{"type":"Feature","p":11500000,"geometry":{"type":"Polygon","coordinates":[[[1047,1220],[1094,1220],[1094,1237],[1047,1237],[1047,1220]]]}},
{"type":"Feature","p":9500000,"geometry":{"type":"Polygon","coordinates":[[[1047,1237],[1094,1237],[1094,1254],[1047,1254],[1047,1237]]]}},
{"type":"Feature","p":6500000,"geometry":{"type":"Polygon","coordinates":[[[1047,1254],[1094,1254],[1094,1271],[1047,1271],[1047,1254]]]}},
{"type":"Feature","p":5500000,"geometry":{"type":"Polygon","coordinates":[[[1047,1271],[1094,1271],[1094,1287],[1047,1287],[1047,1271]]]}},
{"type":"Feature","p":2600000,"geometry":{"type":"Polygon","coordinates":[[[1048,1287],[1095,1287],[1095,1304],[1048,1304],[1048,1287]]]}},
{"type":"Feature","p":1600000,"geometry":{"type":"Polygon","coordinates":[[[1048,1304],[1095,1304],[1095,1321],[1048,1321],[1048,1304]]]}},
{"type":"Feature","p":498000,"geometry":{"type":"Polygon","coordinates":[[[1048,1321],[1095,1321],[1095,1338],[1048,1338],[1048,1321]]]}},
{"type":"Feature","p":452000,"geometry":{"type":"Polygon","coordinates":[[[1049,1338],[1096,1338],[1096,1356],[1049,1356],[1049,1338]]]}},

{"type":"Feature","p":35500000,"geometry":{"type":"Polygon","coordinates":[[[50,1844],[97,1844],[97,1878],[50,1878],[50,1844]]]}},
{"type":"Feature","p":34200000,"geometry":{"type":"Polygon","coordinates":[[[50,1861],[97,1861],[97,1878],[50,1878],[50,1861]]]}},
{"type":"Feature","p":31500000,"geometry":{"type":"Polygon","coordinates":[[[51,1878],[98,1878],[98,1895],[51,1895],[51,1878]]]}},
{"type":"Feature","p":29500000,"geometry":{"type":"Polygon","coordinates":[[[51,1895],[98,1895],[98,1912],[51,1912],[51,1895]]]}},
{"type":"Feature","p":27700000,"geometry":{"type":"Polygon","coordinates":[[[51,1912],[98,1912],[98,1929],[51,1929],[51,1912]]]}},
{"type":"Feature","p":26000000,"geometry":{"type":"Polygon","coordinates":[[[51,1929],[98,1929],[98,1945],[51,1945],[51,1929]]]}},
{"type":"Feature","p":23600000,"geometry":{"type":"Polygon","coordinates":[[[52,1945],[99,1945],[99,1962],[52,1962],[52,1945]]]}},
{"type":"Feature","p":22000000,"geometry":{"type":"Polygon","coordinates":[[[52,1962],[99,1962],[99,1979],[52,1979],[52,1962]]]}},
{"type":"Feature","p":19000000,"geometry":{"type":"Polygon","coordinates":[[[53,1979],[100,1979],[100,1996],[53,1996],[53,1979]]]}},
{"type":"Feature","p":17500000,"geometry":{"type":"Polygon","coordinates":[[[53,1996],[100,1996],[100,2013],[53,2013],[53,1996]]]}},
{"type":"Feature","p":15000000,"geometry":{"type":"Polygon","coordinates":[[[53,2013],[100,2013],[100,2030],[53,2030],[53,2013]]]}},
{"type":"Feature","p":13500000,"geometry":{"type":"Polygon","coordinates":[[[53,2030],[100,2030],[100,2047],[53,2047],[53,2030]]]}},
{"type":"Feature","p":11500000,"geometry":{"type":"Polygon","coordinates":[[[54,2047],[101,2047],[101,2064],[54,2064],[54,2047]]]}},
{"type":"Feature","p":9500000,"geometry":{"type":"Polygon","coordinates":[[[54,2064],[101,2064],[101,2081],[54,2081],[54,2064]]]}},
{"type":"Feature","p":6500000,"geometry":{"type":"Polygon","coordinates":[[[54,2081],[101,2081],[101,2098],[54,2098],[54,2081]]]}},
{"type":"Feature","p":5500000,"geometry":{"type":"Polygon","coordinates":[[[54,2098],[101,2098],[101,2114],[54,2114],[54,2098]]]}},
{"type":"Feature","p":2600000,"geometry":{"type":"Polygon","coordinates":[[[55,2114],[102,2114],[102,2131],[55,2131],[55,2114]]]}},
{"type":"Feature","p":1600000,"geometry":{"type":"Polygon","coordinates":[[[55,2131],[102,2131],[102,2148],[55,2148],[55,2131]]]}},
{"type":"Feature","p":498000,"geometry":{"type":"Polygon","coordinates":[[[55,2148],[102,2148],[102,2165],[55,2165],[55,2148]]]}},
{"type":"Feature","p":452000,"geometry":{"type":"Polygon","coordinates":[[[56,2165],[103,2165],[103,2182],[56,2182],[56,2165]]]}},

{"type":"Feature","p":35500000,"geometry":{"type":"Polygon","coordinates":[[[1063,1840],[1110,1840],[1110,1874],[1063,1874],[1063,1840]]]}},
{"type":"Feature","p":34200000,"geometry":{"type":"Polygon","coordinates":[[[1063,1857],[1110,1857],[1110,1874],[1063,1874],[1063,1857]]]}},
{"type":"Feature","p":31500000,"geometry":{"type":"Polygon","coordinates":[[[1064,1874],[1111,1874],[1111,1891],[1064,1891],[1064,1874]]]}},
{"type":"Feature","p":29500000,"geometry":{"type":"Polygon","coordinates":[[[1064,1891],[1111,1891],[1111,1908],[1064,1908],[1064,1891]]]}},
{"type":"Feature","p":27700000,"geometry":{"type":"Polygon","coordinates":[[[1064,1908],[1111,1908],[1111,1925],[1064,1925],[1064,1908]]]}},
{"type":"Feature","p":26000000,"geometry":{"type":"Polygon","coordinates":[[[1064,1925],[1111,1925],[1111,1941],[1064,1941],[1064,1925]]]}},
{"type":"Feature","p":23600000,"geometry":{"type":"Polygon","coordinates":[[[1065,1941],[1112,1941],[1112,1958],[1065,1958],[1065,1941]]]}},
{"type":"Feature","p":22000000,"geometry":{"type":"Polygon","coordinates":[[[1065,1958],[1112,1958],[1112,1975],[1065,1975],[1065,1958]]]}},
{"type":"Feature","p":19000000,"geometry":{"type":"Polygon","coordinates":[[[1066,1975],[1113,1975],[1113,1992],[1066,1992],[1066,1975]]]}},
{"type":"Feature","p":17500000,"geometry":{"type":"Polygon","coordinates":[[[1066,1992],[1113,1992],[1113,2009],[1066,2009],[1066,1992]]]}},
{"type":"Feature","p":15000000,"geometry":{"type":"Polygon","coordinates":[[[1066,2009],[1113,2009],[1113,2026],[1066,2026],[1066,2009]]]}},
{"type":"Feature","p":13500000,"geometry":{"type":"Polygon","coordinates":[[[1066,2026],[1113,2026],[1113,2043],[1066,2043],[1066,2026]]]}},
{"type":"Feature","p":11500000,"geometry":{"type":"Polygon","coordinates":[[[1067,2043],[1114,2043],[1114,2060],[1067,2060],[1067,2043]]]}},
{"type":"Feature","p":9500000,"geometry":{"type":"Polygon","coordinates":[[[1067,2060],[1114,2060],[1114,2077],[1067,2077],[1067,2060]]]}},
{"type":"Feature","p":6500000,"geometry":{"type":"Polygon","coordinates":[[[1067,2077],[1114,2077],[1114,2094],[1067,2094],[1067,2077]]]}},
{"type":"Feature","p":5500000,"geometry":{"type":"Polygon","coordinates":[[[1067,2094],[1114,2094],[1114,2110],[1067,2110],[1067,2094]]]}},
{"type":"Feature","p":2600000,"geometry":{"type":"Polygon","coordinates":[[[1068,2110],[1115,2110],[1115,2127],[1068,2127],[1068,2110]]]}},
{"type":"Feature","p":1600000,"geometry":{"type":"Polygon","coordinates":[[[1068,2127],[1115,2127],[1115,2144],[1068,2144],[1068,2127]]]}},
{"type":"Feature","p":498000,"geometry":{"type":"Polygon","coordinates":[[[1068,2144],[1115,2144],[1115,2161],[1068,2161],[1068,2144]]]}},
{"type":"Feature","p":452000,"geometry":{"type":"Polygon","coordinates":[[[1069,2161],[1116,2161],[1116,2179],[1069,2179],[1069,2161]]]}}
]},
"mark":{"type":"geoshape","strokeWidth":1},
"encoding":{
"fill":{"field":"p","type":"quantitative","legend":null,"scale":{"type":"linear","interpolate":"rgb","domain":[452000,498000,3520000,7550000,11500000,15600000,19600000,23600000,27700000,31700000,35700000],"range":["#0000f0","#0050f0","#00c4ff","#00ffd8","#00f080","#00e818","#50f000","#b8f000","#ffe800","#ff7800","#fb1a00"]}},
"stroke":{"field":"p","type":"quantitative","legend":null,"scale":{"type":"linear","interpolate":"rgb","domain":[452000,498000,3520000,7550000,11500000,15600000,19600000,23600000,27700000,31700000,35700000],"range":["#0000f0","#0050f0","#00c4ff","#00ffd8","#00f080","#00e818","#50f000","#b8f000","#ffe800","#ff7800","#fb1a00"]}}
}},
{"data":{"values":[
{"type":"Feature","geometry":{"type":"MultiLineString","coordinates":[[[17,205],[64,205]],[[17,239],[65,239]],[[18,272],[65,272]],[[19,306],[66,306]],[[19,340],[66,340]],[[20,374],[67,374]],[[20,408],[67,408]],[[21,441],[68,441]],[[21,475],[68,475]]]}},
{"type":"Feature","geometry":{"type":"MultiLineString","coordinates":[[[1034,199],[1081,199]],[[1035,233],[1082,233]],[[1035,266],[1082,266]],[[1036,300],[1083,300]],[[1036,334],[1083,334]],[[1037,368],[1084,368]],[[1037,402],[1084,402]],[[1038,435],[1085,435]],[[1038,469],[1085,469]]]}},
{"type":"Feature","geometry":{"type":"MultiLineString","coordinates":[[[30,1054],[77,1054]],[[31,1088],[78,1088]],[[31,1121],[78,1121]],[[32,1155],[79,1155]],[[32,1189],[79,1189]],[[33,1223],[80,1223]],[[33,1257],[80,1257]],[[34,1290],[81,1290]],[[34,1324],[81,1324]]]}},
{"type":"Feature","geometry":{"type":"MultiLineString","coordinates":[[[1044,1051],[1091,1051]],[[1045,1085],[1092,1085]],[[1045,1118],[1092,1118]],[[1046,1152],[1093,1152]],[[1046,1186],[1093,1186]],[[1047,1220],[1094,1220]],[[1047,1254],[1094,1254]],[[1048,1287],[1095,1287]],[[1048,1321],[1095,1321]]]}},
{"type":"Feature","geometry":{"type":"MultiLineString","coordinates":[[[51,1878],[98,1878]],[[51,1912],[98,1912]],[[52,1945],[99,1945]],[[53,1979],[100,1979]],[[53,2013],[100,2013]],[[54,2047],[101,2047]],[[54,2081],[101,2081]],[[55,2114],[102,2114]],[[55,2148],[102,2148]]]}},
{"type":"Feature","geometry":{"type":"MultiLineString","coordinates":[[[1064,1874],[1111,1874]],[[1064,1908],[1111,1908]],[[1065,1941],[1112,1941]],[[1066,1975],[1113,1975]],[[1066,2009],[1113,2009]],[[1067,2043],[1114,2043]],[[1067,2077],[1114,2077]],[[1068,2110],[1115,2110]],[[1068,2144],[1115,2144]]]}}
]},
"mark":{"type":"geoshape","filled":false,"stroke":"#000000","strokeOpacity":0.3,"strokeWidth":2},"encoding":{}},
{"data":{"values":[
{"x":81,"y":176,"t":"3.57+e07"},{"x":81,"y":208,"t":"3.17+e07"},{"x":81,"y":239,"t":"2.77+e07"},{"x":80,"y":274,"t":"2.36+e07"},{"x":81,"y":307,"t":"1.96+e07"},{"x":80,"y":338,"t":"1.56+e07"},{"x":80,"y":371,"t":"1.15+e07"},{"x":81,"y":404,"t":"7.55+e06"},{"x":81,"y":437,"t":"3.52+e06"},{"x":80,"y":470,"t":"4.98+e05"},{"x":80,"y":502,"t":"4.52+e05"},
{"x":1098,"y":172,"t":"3.57+e07"},{"x":1098,"y":201,"t":"3.17+e07"},{"x":1098,"y":233,"t":"2.77+e07"},{"x":1098,"y":268,"t":"2.36+e07"},{"x":1098,"y":301,"t":"1.96+e07"},{"x":1098,"y":333,"t":"1.56+e07"},{"x":1098,"y":365,"t":"1.15+e07"},{"x":1098,"y":399,"t":"7.55+e06"},{"x":1098,"y":432,"t":"3.52+e06"},{"x":1097,"y":464,"t":"4.98+e05"},{"x":1098,"y":498,"t":"4.52+e05"},
{"x":93,"y":1027,"t":"3.57+e07"},{"x":93,"y":1057,"t":"3.17+e07"},{"x":93,"y":1090,"t":"2.77+e07"},{"x":93,"y":1125,"t":"2.36+e07"},{"x":93,"y":1157,"t":"1.96+e07"},{"x":93,"y":1190,"t":"1.56+e07"},{"x":93,"y":1222,"t":"1.15+e07"},{"x":93,"y":1256,"t":"7.55+e06"},{"x":93,"y":1287,"t":"3.52+e06"},{"x":91,"y":1320,"t":"4.98+e05"},{"x":93,"y":1354,"t":"4.52+e05"},
{"x":1108,"y":1026,"t":"3.57+e07"},{"x":1108,"y":1056,"t":"3.17+e07"},{"x":1109,"y":1088,"t":"2.77+e07"},{"x":1107,"y":1122,"t":"2.36+e07"},{"x":1108,"y":1155,"t":"1.96+e07"},{"x":1108,"y":1187,"t":"1.56+e07"},{"x":1106,"y":1220,"t":"1.15+e07"},{"x":1108,"y":1252,"t":"7.55+e06"},{"x":1108,"y":1285,"t":"3.52+e06"},{"x":1106,"y":1317,"t":"4.98+e05"},{"x":1107,"y":1350,"t":"4.52+e05"},
{"x":113,"y":1851,"t":"3.57+e07"},{"x":113,"y":1880,"t":"3.17+e07"},{"x":114,"y":1913,"t":"2.77+e07"},{"x":113,"y":1948,"t":"2.36+e07"},{"x":113,"y":1980,"t":"1.96+e07"},{"x":113,"y":2013,"t":"1.56+e07"},{"x":113,"y":2045,"t":"1.15+e07"},{"x":113,"y":2078,"t":"7.55+e06"},{"x":113,"y":2110,"t":"3.52+e06"},{"x":111,"y":2142,"t":"4.98+e05"},{"x":113,"y":2177,"t":"4.52+e05"},
{"x":1128,"y":1847,"t":"3.57+e07"},{"x":1128,"y":1877,"t":"3.17+e07"},{"x":1129,"y":1909,"t":"2.77+e07"},{"x":1127,"y":1944,"t":"2.36+e07"},{"x":1128,"y":1977,"t":"1.96+e07"},{"x":1128,"y":2009,"t":"1.56+e07"},{"x":1127,"y":2041,"t":"1.15+e07"},{"x":1128,"y":2074,"t":"7.55+e06"},{"x":1128,"y":2106,"t":"3.52+e06"},{"x":1126,"y":2140,"t":"4.98+e05"},{"x":1127,"y":2172,"t":"4.52+e05"}
]},
"mark":{"type":"text","align":"left","baseline":"middle","font":"Liberation Sans","fontSize":21,"fill":"#404040"},
"encoding":{"longitude":{"field":"x","type":"quantitative"},"latitude":{"field":"y","type":"quantitative"},"text":{"field":"t"}}},
{"data":{"values":[{"x":310,"y":82,"t":"Diesel"},{"x":1276,"y":59,"t":"TPO"}]},
"mark":{"type":"text","align":"left","baseline":"alphabetic","font":"Lato","fontWeight":"bold","fontSize":59,"fill":"#111111"},
"encoding":{"longitude":{"field":"x","type":"quantitative"},"latitude":{"field":"y","type":"quantitative"},"text":{"field":"t"}}},
{"data":{"values":[{"x":1734,"y":345,"t":"Cylindrical nozzle"},{"x":1745,"y":1084,"t":"Ks-nozzle"},{"x":1742,"y":1894,"t":"Ksd-nozzle"}]},
"mark":{"type":"text","align":"left","baseline":"alphabetic","font":"Lato","fontWeight":"bold","fontSize":60,"fill":"#111111"},
"encoding":{"longitude":{"field":"x","type":"quantitative"},"latitude":{"field":"y","type":"quantitative"},"text":{"field":"t"}}}
]}
